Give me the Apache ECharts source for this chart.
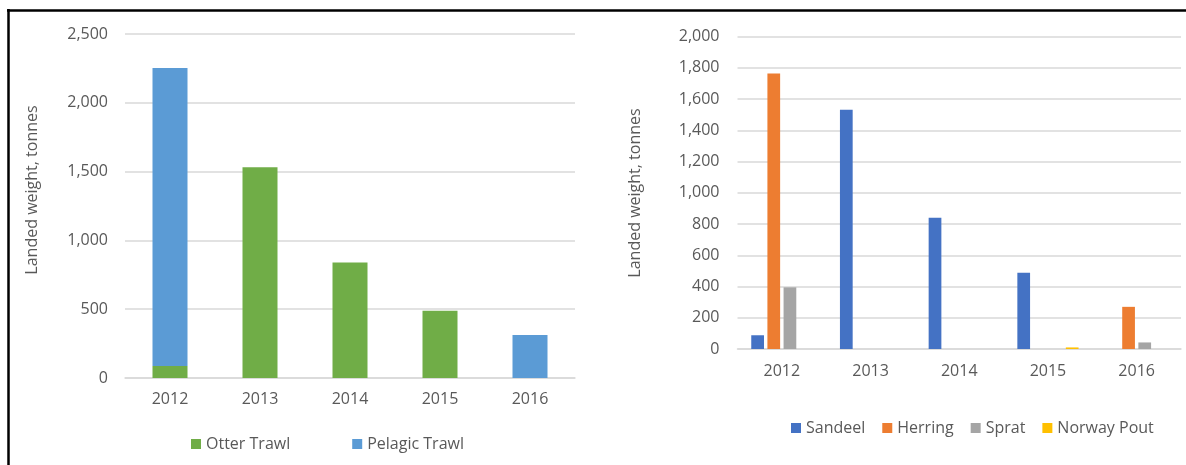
<!DOCTYPE html>
<html>
<head>
<meta charset="utf-8">
<script src="https://cdn.jsdelivr.net/npm/echarts@6/dist/echarts.min.js"></script>
<style>
  html, body { margin: 0; padding: 0; background: #fff; }
  #chart { width: 1186px; height: 465px; }
</style>
</head>
<body>
<div id="chart"></div>
<script>
// ---- data ----
const years = ['2012', '2013', '2014', '2015', '2016'];
// left chart: by gear
const otterTrawl = [88, 1532, 840, 488, 0];
const pelagicTrawl = [2165, 0, 0, 0, 312];
// right chart: by species
const sandeel = [88, 1532, 840, 488, 0];
const herring = [1765, 0, 0, 0, 270];
const sprat = [395, 0, 0, 0, 42];
const norwayPout = [0, 0, 0, 10, 0];
const leftTicks = { min: 0, max: 2500, interval: 500 };
const rightTicks = { min: 0, max: 2000, interval: 200 };
const axisTitle = 'Landed weight, tonnes';

const FONT = '"Open Sans", sans-serif';
const FS = 16;
const TXT = '#595959';
const GRIDC = '#d9d9d9';
const fmt = v => String(v).replace(/\B(?=(\d{3})+(?!\d))/g, ',');

function catAxis(gi) {
  return {
    type: 'category', gridIndex: gi, data: years,
    axisLine: { lineStyle: { color: GRIDC, width: 1.5 } },
    axisTick: { show: false },
    axisLabel: { color: TXT, fontFamily: FONT, fontSize: FS, margin: gi === 0 ? 13 : 14 }
  };
}
function valAxis(gi, t, margin) {
  return {
    type: 'value', gridIndex: gi, min: t.min, max: t.max, interval: t.interval,
    axisLine: { show: false }, axisTick: { show: false },
    splitLine: { lineStyle: { color: GRIDC, width: 1.5 } },
    axisLabel: { color: TXT, fontFamily: FONT, fontSize: FS, margin: margin, formatter: fmt }
  };
}

const chart = echarts.init(document.getElementById('chart'), null, { renderer: 'canvas' });
chart.setOption({
  backgroundColor: '#ffffff',
  animation: false,
  grid: [
    { left: 125, top: 34, width: 450, height: 344 },
    { left: 737.5, top: 36.7, width: 443.5, height: 312.3 }
  ],
  xAxis: [catAxis(0), catAxis(1)],
  yAxis: [valAxis(0, leftTicks, 17), valAxis(1, rightTicks, 18)],
  legend: [
    {
      data: ['Otter Trawl', 'Pelagic Trawl'], left: 186, top: 431,
      icon: 'rect', itemWidth: 10, itemHeight: 10, itemGap: 62,
      textStyle: { color: TXT, fontFamily: FONT, fontSize: FS }
    },
    {
      data: ['Sandeel', 'Herring', 'Sprat', 'Norway Pout'], left: 786, top: 415,
      icon: 'rect', itemWidth: 10, itemHeight: 10, itemGap: 17,
      textStyle: { color: TXT, fontFamily: FONT, fontSize: FS }
    }
  ],
  graphic: [
    { type: 'line', shape: { x1: 8.5, y1: 9, x2: 8.5, y2: 465 }, style: { stroke: '#000', lineWidth: 2.5 } },
    { type: 'line', shape: { x1: 7, y1: 10.5, x2: 1186, y2: 10.5 }, style: { stroke: '#000', lineWidth: 2.5 } },
    { type: 'text', x: 32.5, y: 190, rotation: Math.PI / 2,
      style: { text: axisTitle, fill: TXT, font: FS + 'px ' + FONT, textAlign: 'center', textVerticalAlign: 'middle' } },
    { type: 'text', x: 635.5, y: 193, rotation: Math.PI / 2,
      style: { text: axisTitle, fill: TXT, font: FS + 'px ' + FONT, textAlign: 'center', textVerticalAlign: 'middle' } }
  ],
  series: [
    { name: 'Otter Trawl', type: 'bar', xAxisIndex: 0, yAxisIndex: 0, stack: 'g', data: otterTrawl,
      barWidth: 35, itemStyle: { color: '#70ad47' } },
    { name: 'Pelagic Trawl', type: 'bar', xAxisIndex: 0, yAxisIndex: 0, stack: 'g', data: pelagicTrawl,
      barWidth: 35, itemStyle: { color: '#5b9bd5' } },
    { name: 'Sandeel', type: 'bar', xAxisIndex: 1, yAxisIndex: 1, data: sandeel,
      barGap: '27%', barCategoryGap: '31%', itemStyle: { color: '#4472c4' } },
    { name: 'Herring', type: 'bar', xAxisIndex: 1, yAxisIndex: 1, data: herring,
      barGap: '27%', barCategoryGap: '31%', itemStyle: { color: '#ed7d31' } },
    { name: 'Sprat', type: 'bar', xAxisIndex: 1, yAxisIndex: 1, data: sprat,
      barGap: '27%', barCategoryGap: '31%', itemStyle: { color: '#a5a5a5' } },
    { name: 'Norway Pout', type: 'bar', xAxisIndex: 1, yAxisIndex: 1, data: norwayPout,
      barGap: '27%', barCategoryGap: '31%', itemStyle: { color: '#ffc000' } }
  ]
});
</script>
</body>
</html>
